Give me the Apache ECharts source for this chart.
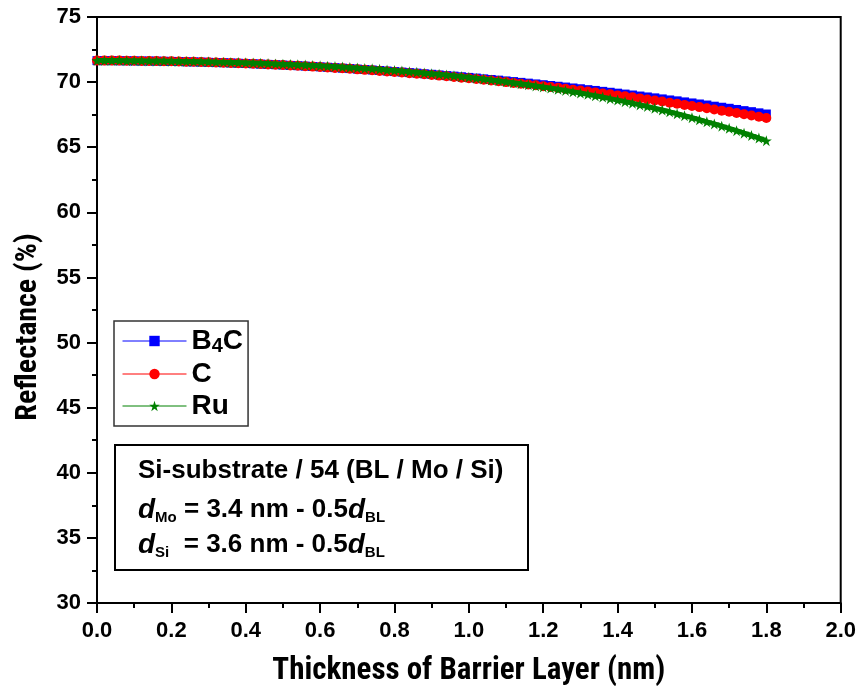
<!DOCTYPE html>
<html>
<head>
<meta charset="utf-8">
<script src="https://cdn.jsdelivr.net/npm/echarts@6/dist/echarts.min.js"></script>
<style>
html,body{margin:0;padding:0;background:#fff;}
#chart{width:859px;height:695px;}
</style>
</head>
<body>
<div id="chart"></div>
<script>
// Barrier layer thickness (nm)
const thickness = [0,0.02,0.04,0.06,0.08,0.10,0.12,0.14,0.16,0.18,
0.20,0.22,0.24,0.26,0.28,0.30,0.32,0.34,0.36,0.38,
0.40,0.42,0.44,0.46,0.48,0.50,0.52,0.54,0.56,0.58,
0.60,0.62,0.64,0.66,0.68,0.70,0.72,0.74,0.76,0.78,
0.80,0.82,0.84,0.86,0.88,0.90,0.92,0.94,0.96,0.98,
1.00,1.02,1.04,1.06,1.08,1.10,1.12,1.14,1.16,1.18,
1.20,1.22,1.24,1.26,1.28,1.30,1.32,1.34,1.36,1.38,
1.40,1.42,1.44,1.46,1.48,1.50,1.52,1.54,1.56,1.58,
1.60,1.62,1.64,1.66,1.68,1.70,1.72,1.74,1.76,1.78,
1.80];

// Reflectance (%) for each barrier material
const b4c = [71.65,71.65,71.65,71.64,71.64,71.63,71.62,71.62,71.61,71.60,
71.59,71.58,71.56,71.55,71.54,71.52,71.50,71.49,71.47,71.45,
71.43,71.41,71.38,71.36,71.34,71.31,71.28,71.26,71.23,71.20,
71.17,71.14,71.11,71.07,71.04,71.00,70.97,70.93,70.89,70.85,
70.81,70.77,70.73,70.69,70.64,70.60,70.55,70.50,70.46,70.41,
70.36,70.31,70.25,70.20,70.15,70.09,70.04,69.98,69.92,69.86,
69.80,69.74,69.68,69.62,69.55,69.49,69.42,69.36,69.29,69.22,
69.15,69.08,69.01,68.93,68.86,68.79,68.71,68.63,68.56,68.48,
68.40,68.32,68.24,68.15,68.07,67.99,67.90,67.81,67.73,67.64,
67.55];

const carbon = [71.65,71.65,71.65,71.65,71.64,71.64,71.63,71.62,71.62,71.61,
71.60,71.58,71.57,71.56,71.54,71.53,71.51,71.49,71.47,71.45,
71.43,71.41,71.39,71.36,71.34,71.31,71.28,71.25,71.22,71.19,
71.16,71.13,71.09,71.06,71.02,70.98,70.94,70.91,70.86,70.82,
70.78,70.74,70.69,70.64,70.60,70.55,70.50,70.45,70.40,70.34,
70.29,70.24,70.18,70.12,70.06,70.00,69.94,69.88,69.82,69.76,
69.69,69.63,69.56,69.49,69.42,69.35,69.28,69.21,69.13,69.06,
68.98,68.91,68.83,68.75,68.67,68.59,68.51,68.42,68.34,68.25,
68.17,68.08,67.99,67.90,67.81,67.72,67.63,67.53,67.44,67.34,
67.24];

const ru = [71.65,71.65,71.65,71.65,71.64,71.64,71.64,71.63,71.62,71.62,
71.61,71.60,71.59,71.58,71.57,71.56,71.54,71.53,71.51,71.50,
71.48,71.46,71.44,71.42,71.40,71.38,71.36,71.33,71.31,71.28,
71.25,71.22,71.19,71.16,71.12,71.09,71.05,71.02,70.98,70.93,
70.89,70.85,70.80,70.75,70.70,70.65,70.60,70.54,70.49,70.43,
70.37,70.30,70.24,70.17,70.10,70.03,69.95,69.88,69.80,69.71,
69.63,69.54,69.45,69.36,69.26,69.16,69.06,68.95,68.85,68.73,
68.62,68.50,68.38,68.25,68.13,67.99,67.86,67.72,67.57,67.42,
67.27,67.11,66.95,66.79,66.62,66.45,66.27,66.08,65.90,65.70,
65.50];

const seriesNames = ['B4C', 'C', 'Ru'];
const legendLabels = {'B4C': '{b|B}{s|4}{b|C}', 'C': '{b|C}', 'Ru': '{b|Ru}'};
const xTicks = {min: 0, max: 2.0, interval: 0.2};
const yTicks = {min: 30, max: 75, interval: 5};
const xTitle = 'Thickness of Barrier Layer (nm)';
const yTitle = 'Reflectance (%)';
const noteLine1 = 'Si-substrate / 54 (BL / Mo / Si)';
const noteLine2 = '{i|d}{sub|Mo}{n| = 3.4 nm - 0.5}{i|d}{sub|BL}';
const noteLine3 = '{i|d}{sub|Si}{n|  = 3.6 nm - 0.5}{i|d}{sub|BL}';

const NUM_FONT = '"Liberation Sans", Arial, sans-serif';
const TXT_FONT = '"Roboto Condensed", "Liberation Sans", sans-serif';
const STAR = 'path://M50,0 L61.8,35.4 L99,35.4 L69,57.3 L80.4,92.7 L50,70.8 L19.6,92.7 L31,57.3 L1,35.4 L38.2,35.4 Z';

function pairs(ys) { return thickness.map((x, i) => [x, ys[i]]); }

const chart = echarts.init(document.getElementById('chart'), null, {renderer: 'canvas'});

const noteRich = {
  i: {fontFamily: NUM_FONT, fontWeight: 'bold', fontStyle: 'italic', fontSize: 28, lineHeight: 30, color: '#000'},
  n: {fontFamily: NUM_FONT, fontWeight: 'bold', fontSize: 26, lineHeight: 30, color: '#000'},
  sub: {fontFamily: NUM_FONT, fontWeight: 'bold', fontSize: 15, lineHeight: 10, verticalAlign: 'bottom', color: '#000'}
};

const option = {
  animation: false,
  backgroundColor: '#fff',
  grid: {left: 97, right: 18, top: 17, bottom: 92, show: true, borderColor: '#000', borderWidth: 2, backgroundColor: 'transparent'},
  xAxis: {
    type: 'value', min: xTicks.min, max: xTicks.max, interval: xTicks.interval,
    name: xTitle, nameLocation: 'middle', nameGap: 53,
    nameTextStyle: {fontFamily: TXT_FONT, fontWeight: 'bold', fontSize: 31, color: '#000'},
    axisLine: {show: true, lineStyle: {color: '#000', width: 2}},
    axisTick: {show: true, inside: false, length: 10, lineStyle: {color: '#000', width: 2}},
    minorTick: {show: true, splitNumber: 2, length: 5, lineStyle: {color: '#000', width: 2}},
    splitLine: {show: false},
    axisLabel: {fontFamily: NUM_FONT, fontWeight: 'bold', fontSize: 22, color: '#000', margin: 17,
      formatter: v => v.toFixed(1)}
  },
  yAxis: {
    type: 'value', min: yTicks.min, max: yTicks.max, interval: yTicks.interval,
    name: yTitle, nameLocation: 'middle', nameGap: 54, nameRotate: 90,
    nameTextStyle: {fontFamily: TXT_FONT, fontWeight: 'bold', fontSize: 30, color: '#000', padding: [0, 34, 0, 0]},
    axisLine: {show: true, lineStyle: {color: '#000', width: 2}},
    axisTick: {show: true, inside: false, length: 10, lineStyle: {color: '#000', width: 2}},
    minorTick: {show: true, splitNumber: 2, length: 5, lineStyle: {color: '#000', width: 2}},
    splitLine: {show: false},
    axisLabel: {fontFamily: NUM_FONT, fontWeight: 'bold', fontSize: 22, color: '#000', margin: 16}
  },
  legend: {
    orient: 'vertical', left: 114, top: 321,
    itemWidth: 64, itemHeight: 13, itemGap: 4,
    padding: [6, 5, 6, 8],
    borderColor: '#333', borderWidth: 1.5, backgroundColor: '#fff',
    lineStyle: {width: 1},
    data: seriesNames,
    formatter: name => legendLabels[name],
    textStyle: {
      color: '#000', fontFamily: NUM_FONT, fontWeight: 'bold', fontSize: 28,
      rich: {
        b: {fontFamily: NUM_FONT, fontWeight: 'bold', fontSize: 28, lineHeight: 30, color: '#000'},
        s: {fontFamily: NUM_FONT, fontWeight: 'bold', fontSize: 20, lineHeight: 8, verticalAlign: 'bottom', color: '#000'}
      }
    }
  },
  graphic: [
    {type: 'rect', shape: {x: 115, y: 445, width: 413, height: 125},
     style: {fill: '#fff', stroke: '#000', lineWidth: 2}, z: 100},
    {type: 'text', x: 138, y: 471, z: 101,
     style: {text: noteLine1, fontFamily: NUM_FONT, fontWeight: 'bold', fontSize: 26, fill: '#000', verticalAlign: 'middle', align: 'left'}},
    {type: 'text', x: 138, y: 510, z: 101,
     style: {text: noteLine2, verticalAlign: 'middle', align: 'left', fill: '#000', rich: noteRich}},
    {type: 'text', x: 138, y: 545, z: 101,
     style: {text: noteLine3, verticalAlign: 'middle', align: 'left', fill: '#000', rich: noteRich}}
  ],
  series: [
    {name: 'B4C', type: 'line', data: pairs(b4c), symbol: 'rect', symbolSize: 9, showSymbol: true,
     itemStyle: {color: '#0000ff'}, lineStyle: {color: '#0000ff', width: 6}, z: 2},
    {name: 'C', type: 'line', data: pairs(carbon), symbol: 'circle', symbolSize: 10, showSymbol: true,
     itemStyle: {color: '#ff0000'}, lineStyle: {color: '#ff0000', width: 6}, z: 3},
    {name: 'Ru', type: 'line', data: pairs(ru), symbol: STAR, symbolSize: 11, showSymbol: true,
     itemStyle: {color: '#008000'}, lineStyle: {color: '#008000', width: 5}, z: 4}
  ]
};
chart.setOption(option);
</script>
</body>
</html>
